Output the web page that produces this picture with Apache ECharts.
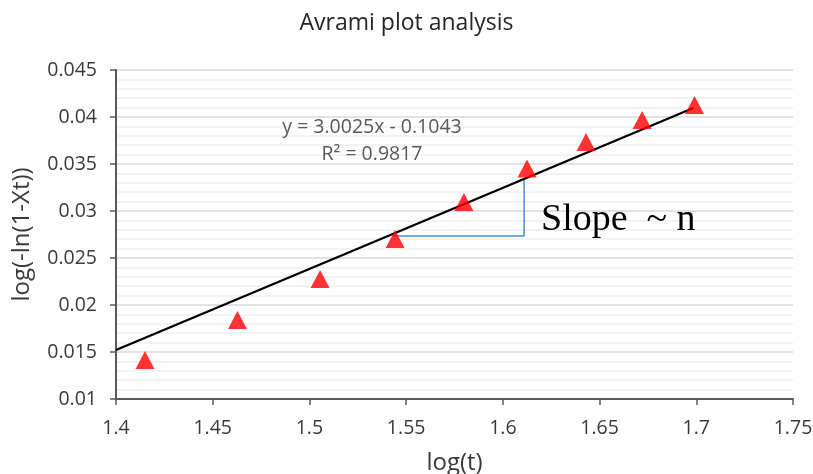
<!DOCTYPE html>
<html>
<head>
<meta charset="utf-8">
<script src="https://cdn.jsdelivr.net/npm/echarts@6/dist/echarts.min.js"></script>
<style>
  html, body { margin: 0; padding: 0; background: #fff; }
  #chart { width: 813px; height: 474px; }
</style>
</head>
<body>
<div id="chart"></div>
<script>
// Measured points: log(t) against log(-ln(1-Xt))
const logT = [1.415, 1.4628, 1.5055, 1.5443, 1.5799, 1.6125, 1.643, 1.672, 1.6991];
const logLn = [0.01415, 0.0184, 0.02277, 0.02702, 0.03096, 0.03452, 0.03734, 0.03968, 0.04128];

// Linear trend line endpoints
const trendX = [1.4, 1.6985];
const trendY = [0.01521, 0.04096];

// Slope guide (horizontal run, vertical rise)
const slopeX = [1.5432, 1.611, 1.611];
const slopeY = [0.02734, 0.02734, 0.0333];

const xTicks = { min: 1.4, max: 1.75, step: 0.05 };
const yTicks = { min: 0.01, max: 0.045, step: 0.005 };

const FONT = 'Open Sans';
const TXT = '#3a3a3a';

const chart = echarts.init(document.getElementById('chart'), null, { renderer: 'canvas' });

const zip = (a, b) => a.map((v, i) => [v, b[i]]);

chart.setOption({
  animation: false,
  backgroundColor: '#ffffff',
  title: {
    text: 'Avrami plot analysis',
    left: 'center',
    top: 7,
    textStyle: { fontFamily: FONT, fontSize: 23, fontWeight: 'normal', color: '#262626' }
  },
  grid: { left: 116, right: 20, top: 70, bottom: 75, containLabel: false, outerBoundsMode: 'none' },
  xAxis: {
    type: 'value',
    min: xTicks.min, max: xTicks.max, interval: xTicks.step,
    name: 'log(t)',
    nameLocation: 'middle',
    nameGap: 52,
    nameTextStyle: { fontFamily: FONT, fontSize: 24, color: TXT },
    axisLine: { show: true, onZero: false, lineStyle: { color: '#595959', width: 2 } },
    axisTick: { show: true, inside: false, length: 6, lineStyle: { color: '#595959', width: 1.5 } },
    axisLabel: { fontFamily: FONT, fontSize: 19.5, color: TXT, margin: 19,
      formatter: v => String(+v.toFixed(2)) },
    splitLine: { show: false }
  },
  yAxis: {
    type: 'value',
    min: yTicks.min, max: yTicks.max, interval: yTicks.step,
    name: 'log(-ln(1-Xt))',
    nameLocation: 'middle',
    nameGap: 82,
    nameTextStyle: { fontFamily: FONT, fontSize: 24, color: TXT },
    axisLine: { show: true, onZero: false, lineStyle: { color: '#595959', width: 2 } },
    axisTick: { show: true, inside: false, length: 6, lineStyle: { color: '#595959', width: 1.5 } },
    axisLabel: { fontFamily: FONT, fontSize: 19.5, color: TXT, margin: 19,
      formatter: v => String(+v.toFixed(3)) },
    splitLine: { show: true, lineStyle: { color: '#d9d9d9', width: 1.5 } },
    minorTick: { show: true, splitNumber: 5, length: 0 },
    minorSplitLine: { show: true, lineStyle: { color: '#efefef', width: 1.5 } }
  },
  series: [
    {
      name: 'trend',
      type: 'line',
      data: zip(trendX, trendY),
      symbol: 'none',
      lineStyle: { color: '#000000', width: 2.3 },
      z: 3
    },
    {
      name: 'slope',
      type: 'line',
      data: zip(slopeX, slopeY),
      symbol: 'none',
      lineStyle: { color: '#4a90d9', width: 1.5 },
      z: 2
    },
    {
      name: 'data',
      type: 'scatter',
      data: zip(logT, logLn),
      symbol: 'triangle',
      symbolSize: [19, 18],
      itemStyle: { color: '#ff0000' },
      z: 4
    }
  ],
  graphic: [
    {
      type: 'text', x: 372, y: 127,
      style: { text: 'y = 3.0025x - 0.1043', align: 'center', verticalAlign: 'middle',
        fontFamily: FONT, fontSize: 19.5, fill: '#595959' },
      z: 10
    },
    {
      type: 'text', x: 372, y: 154,
      style: { text: 'R² = 0.9817', align: 'center', verticalAlign: 'middle',
        fontFamily: FONT, fontSize: 19.5, fill: '#595959' },
      z: 10
    },
    {
      type: 'text', x: 541, y: 220,
      style: { text: 'Slope  ~ n', align: 'left', verticalAlign: 'middle',
        fontFamily: 'Liberation Serif', fontSize: 38, fill: '#000000' },
      z: 10
    }
  ]
});
</script>
</body>
</html>
